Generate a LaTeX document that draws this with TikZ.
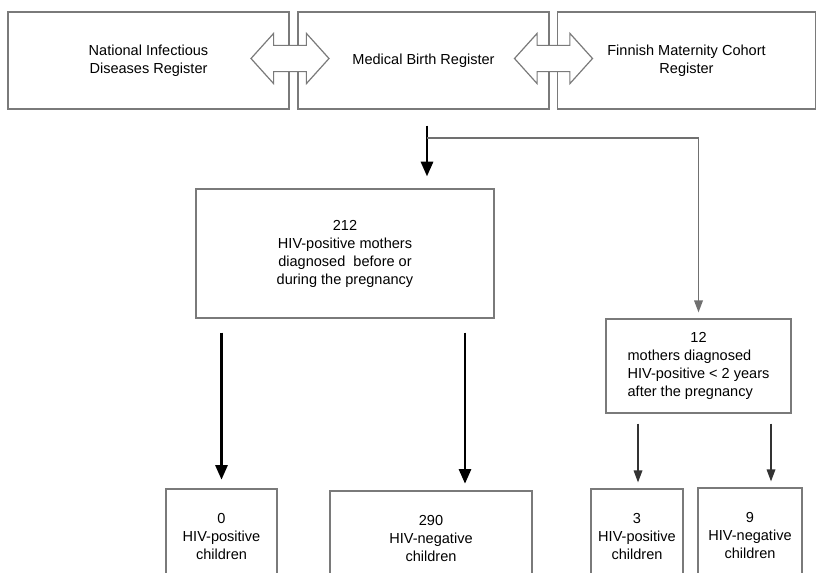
\documentclass[tikz,border=0pt]{standalone}
\usepackage{fontspec}
\setmainfont{Liberation Sans}
\usetikzlibrary{arrows.meta,positioning,calc,shapes.arrows}
\definecolor{boxgray}{HTML}{7A7A7A}
\definecolor{linegray}{HTML}{707070}

\begin{document}
\begin{tikzpicture}[
		x=0.75pt,
		y=-0.75pt,
		line cap=butt,
		line join=miter,
		every node/.style={font=\fontsize{10.9}{13.5}\selectfont},
		regbox/.style={draw=boxgray,line width=0.9pt,align=center,minimum height=72.75pt,inner sep=0pt},
		countbox/.style={draw=boxgray,line width=0.9pt,align=center,inner sep=0pt},
		linkarrow/.style={shape=double arrow,draw=boxgray,fill=white,line width=0.9pt,
			inner xsep=0pt,inner ysep=9.4pt,minimum height=58.5pt,
			double arrow head extend=9pt,double arrow tip angle=96},
		mainflow/.style={-{Triangle[length=11pt,width=9pt]},line width=2.1pt,draw=black},
		sideflow/.style={-{Triangle[length=9pt,width=6.5pt]},line width=0.9pt,draw=black!80},
		branch/.style={-{Triangle[length=9pt,width=6.5pt]},line width=1.1pt,draw=linegray}
	]
	
	% Frame
	\useasboundingbox (0,0) rectangle (816,572);
	\clip (0,0) rectangle (816,572);
	
	% Registers
	\node[regbox,minimum width=210.75pt] (nidr) at (148.5,60.5)
	{National Infectious\\Diseases Register};
	\node[regbox,minimum width=188.25pt] (mbr) at (423.5,60.5)
	{Medical Birth Register};
	\node[regbox,minimum width=193.5pt] (fmcr) at (686.5,60.5)
	{Finnish Maternity Cohort\\Register};
	
	% Links between registers
	\node[linkarrow] (link1) at (290,58.5) {};
	\node[linkarrow] (link2) at (553.5,58.5) {};
	
	% Mothers
	\node[countbox,minimum width=223.5pt,minimum height=96.75pt] (before) at (345,253.5)
	{212\\HIV-positive mothers\\diagnosed~ before or\\during the pregnancy};
	\node[countbox,minimum width=138.75pt,minimum height=70.5pt] (after) at (698.5,366)
	{\begin{tabular}{@{}l@{}}\multicolumn{1}{@{}c@{}}{12}\\mothers diagnosed\\HIV-positive < 2 years\\after the pregnancy\end{tabular}};
	
	% Children
	\node[countbox,minimum width=83.25pt,minimum height=70.5pt] (pos0) at (221.5,536)
	{0\\HIV-positive\\children};
	\node[countbox,minimum width=151.5pt,minimum height=70.5pt] (neg290) at (431,538)
	{290\\HIV-negative\\children};
	\node[countbox,minimum width=69pt,minimum height=70.5pt] (pos3) at (637,536)
	{3\\HIV-positive\\children};
	\node[countbox,minimum width=78pt,minimum height=70.5pt] (neg9) at (750,535)
	{9\\HIV-negative\\children};
	
	% Split point below the birth register
	\coordinate (split) at (427,138);
	\coordinate (negcol) at (465,0);
	\coordinate (pos3col) at (638,0);
	\coordinate (neg9col) at (771,0);
	
	% Connectors
	\draw[mainflow,shorten <=12pt,shorten >=9pt] (split |- mbr.south) -- (split |- before.north);
	\draw[branch,shorten >=4.5pt] (split) -| (after.north);
	\draw[mainflow,shorten <=10.5pt,shorten >=6.5pt] (pos0.north |- before.south) -- (pos0.north);
	\draw[mainflow,shorten <=10.5pt,shorten >=5pt] (negcol |- before.south) -- (negcol |- neg290.north);
	\draw[sideflow,shorten <=7.5pt,shorten >=4.5pt] (pos3col |- after.south) -- (pos3col |- pos3.north);
	\draw[sideflow,shorten <=7.5pt,shorten >=4.5pt] (neg9col |- after.south) -- (neg9col |- neg9.north);
	
\end{tikzpicture}
\end{document}
